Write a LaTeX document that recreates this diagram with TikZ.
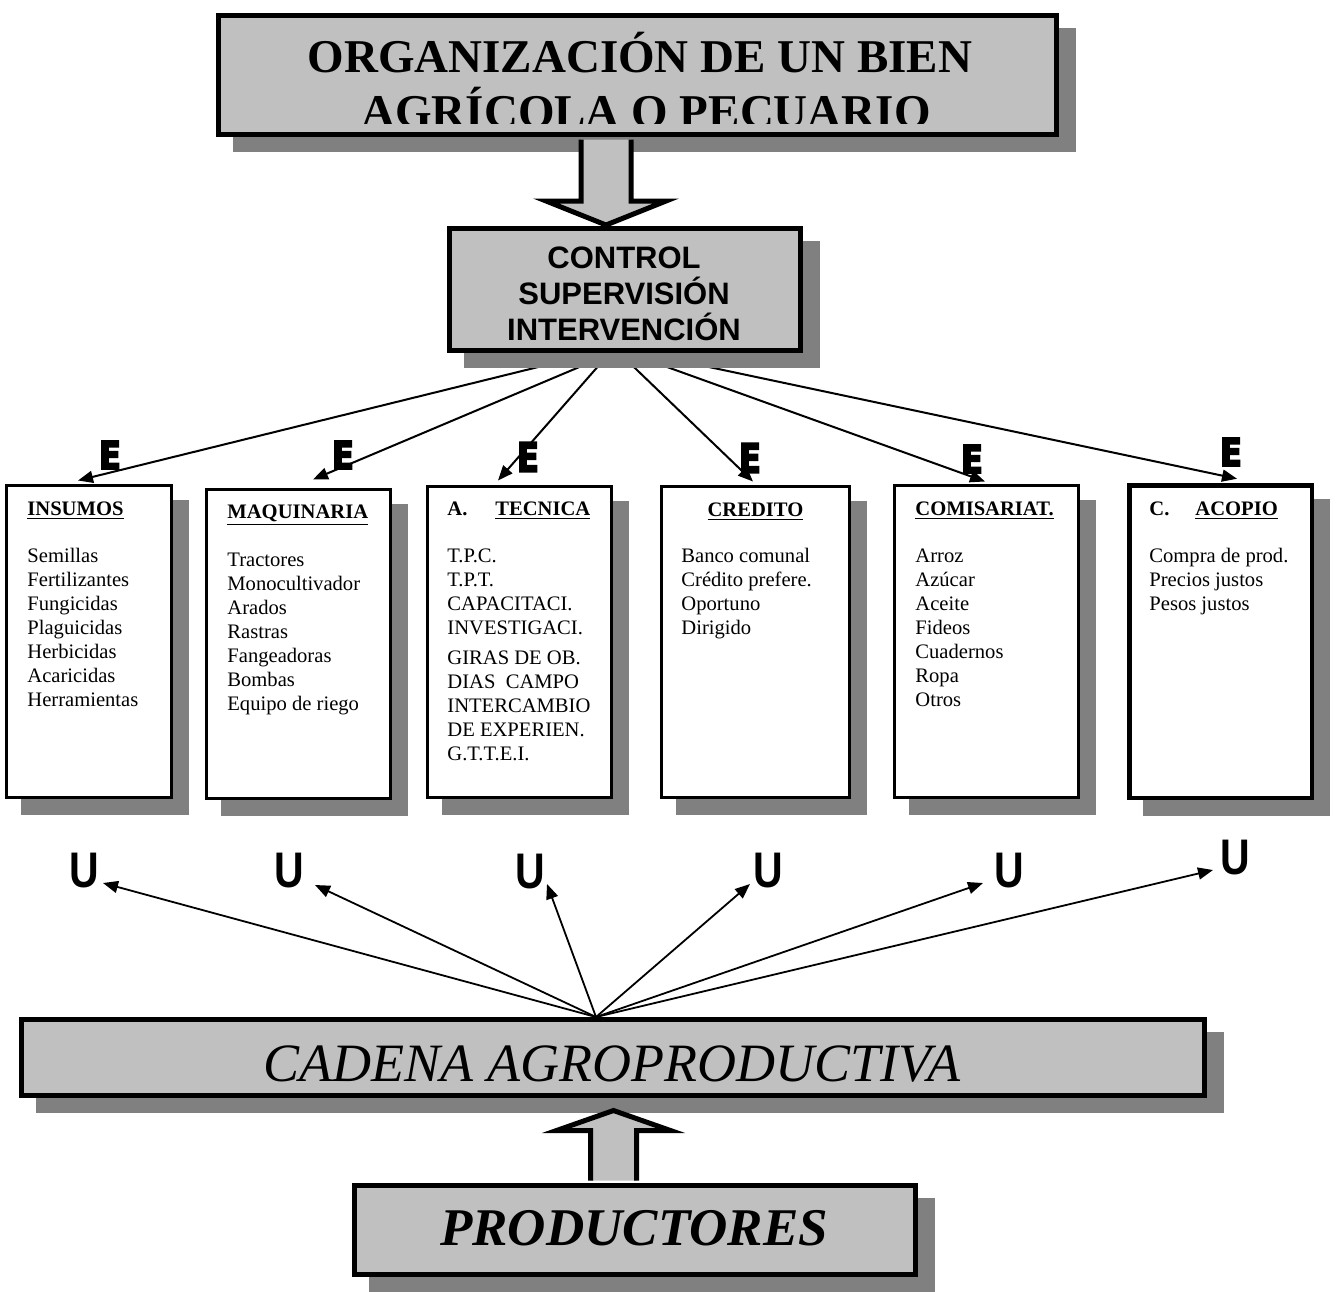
\documentclass[tikz,border=0pt]{standalone}
\usepackage{fontspec}
\setmainfont{Liberation Serif}
\newfontfamily\arialf{Liberation Sans}
\newfontfamily\heavyE[FakeBold=5]{DejaVu Sans Bold}
\usetikzlibrary{arrows.meta,calc,fit}
\pgfdeclarelayer{bg}
\pgfsetlayers{bg,main}
\definecolor{boxgray}{HTML}{C0C0C0}
\definecolor{shadowgray}{HTML}{808080}
\tikzset{
  bigbox/.style={draw=black, line width=2.5pt, fill=boxgray, inner sep=0pt,
    preaction={draw=shadowgray, fill=shadowgray, transform canvas={shift={(8.4pt,-7.6pt)}}}},
  panel/.style={draw=black, line width=1.5pt, fill=white, inner sep=0pt,
    preaction={draw=shadowgray, fill=shadowgray, transform canvas={shift={(8pt,-8pt)}}}},
  conn/.style={line width=1pt, -{Triangle[length=7.5pt,width=6pt]}},
  uconn/.style={line width=0.9pt, -{Triangle[length=7.5pt,width=6pt]}},
  blockarrow/.style={draw=black, line width=2.5pt, fill=boxgray, line join=miter},
  lettE/.style={font=\heavyE\fontsize{20}{20}\selectfont, inner sep=0pt},
  lettU/.style={font=\arialf\bfseries\fontsize{25}{25}\selectfont, inner sep=0pt, anchor=base},
  itemtxt/.style={anchor=base west, inner sep=0pt, font=\fontsize{10.3}{12}\selectfont},
  ctrltxt/.style={anchor=base, inner sep=0pt, font=\arialf\bfseries\fontsize{15.5}{18}\selectfont},
}
\newcommand{\itemlist}[1]{\parbox[t]{200pt}{\raggedright #1}}
\begin{document}
\begin{tikzpicture}[x=0.5pt,y=-0.5pt]
\useasboundingbox (0,0) rectangle (1337,1291);

% ---------- top box ----------
\node[bigbox, fit={(218.5,15.5) (1056.5,134.5)}] (top) {};
\node[anchor=base, inner sep=0pt, font=\bfseries\fontsize{23.5}{24}\selectfont] (tl1) at (640,72) {ORGANIZACIÓN DE UN BIEN};
\begin{scope}
  \clip (216,13) rectangle (1059,123);
  \node[anchor=base, inner sep=0pt, font=\bfseries\fontsize{23.5}{24}\selectfont] (tl2) at (646,127) {AGRÍCOLA O PECUARIO};
\end{scope}

% ---------- control box ----------
\node[bigbox, fit={(449.5,228.5) (800.5,350.5)}] (ctrl) {};
\node[ctrltxt] (c1) at (624,268) {CONTROL};
\node[ctrltxt] (c2) at (624,304) {SUPERVISIÓN};
\node[ctrltxt] (c3) at (624,340) {INTERVENCIÓN};

% block arrow down
\coordinate (ds) at ($(top.south)+(-31.5,2.5)$);
\coordinate (dt) at ($(ctrl.north)+(-19,-1)$);
\draw[blockarrow] ($(ds)+(-25,0)$) -- ($(dt)+(-25,-24)$) -- ($(dt)+(-60,-24)$) -- (dt)
   -- ($(dt)+(60,-24)$) -- ($(dt)+(25,-24)$) -- ($(ds)+(25,0)$);

% ---------- six panels ----------
\node[panel, fit={(6.5,485.5) (171.5,797.5)}] (b1) {};
\node[panel, fit={(206.5,489.5) (390.5,798.5)}] (b2) {};
\node[panel, fit={(427.5,486.5) (611.5,797.5)}] (b3) {};
\node[panel, fit={(661.5,486.5) (849.5,797.5)}] (b4) {};
\node[panel, fit={(894.5,485.5) (1078.5,797.5)}] (b5) {};
\node[panel, line width=2.25pt, fit={(1129.25,485.25) (1311.75,797.75)}] (b6) {};

\node[itemtxt] (i1) at (27,515) {\itemlist{\underline{\textbf{INSUMOS}}\\[11.5pt]
  Semillas\\Fertilizantes\\Fungicidas\\Plaguicidas\\Herbicidas\\Acaricidas\\Herramientas}};
\node[itemtxt] (i2) at (227,518) {\itemlist{\underline{\textbf{MAQUINARIA}}\\[12pt]
  Tractores\\Monocultivador\\Arados\\Rastras\\Fangeadoras\\Bombas\\Equipo de riego}};
\node[itemtxt] (i3) at (447,515) {\itemlist{\textbf{\makebox[24pt][l]{A.}\underline{TECNICA}}\\[11.5pt]
  T.P.C.\\T.P.T.\\CAPACITACI.\\INVESTIGACI.\\[3pt]GIRAS DE OB.\\DIAS\ \ CAMPO\\INTERCAMBIO\\DE EXPERIEN.\\G.T.T.E.I.}};
\node[anchor=base, inner sep=0pt, font=\fontsize{10.3}{12}\selectfont] (h4) at (755.5,516) {\underline{\textbf{CREDITO}}};
\node[itemtxt] (i4) at (681,562) {\itemlist{Banco comunal\\Crédito prefere.\\Oportuno\\Dirigido}};
\node[itemtxt] (i5) at (915,515) {\itemlist{\underline{\textbf{COMISARIAT.}}\\[11.5pt]
  Arroz\\Azúcar\\Aceite\\Fideos\\Cuadernos\\Ropa\\Otros}};
\node[itemtxt] (i6) at (1149,515) {\itemlist{\textbf{\makebox[23pt][l]{C.}\underline{ACOPIO}}\\[11.5pt]
  Compra de prod.\\Precios justos\\Pesos justos}};

% E letters
\node[lettE] (e1) at (110,455) {\scalebox{0.8}[0.95]{E}};
\node[lettE] (e2) at (343,455) {\scalebox{0.8}[0.95]{E}};
\node[lettE] (e3) at (528,457) {\scalebox{0.8}[1]{E}};
\node[lettE] (e4) at (750,458) {\scalebox{0.8}[1]{E}};
\node[lettE] (e5) at (972,459) {\scalebox{0.8}[0.95]{E}};
\node[lettE] (e6) at (1231,452) {\scalebox{0.8}[0.95]{E}};

% connectors control -> panels (behind the control box shadow)
\begin{pgfonlayer}{bg}
\draw[conn] ($(ctrl.south)+(-30,0)$) -- ($(b1.north)+(-11,-3.5)$);
\draw[conn] ($(ctrl.south)+(-12.5,0)$) -- ($(b2.north)+(14.5,-8.5)$);
\draw[conn] ($(ctrl.south)+(-15.3,0)$) -- ($(b3.north)+(-21.5,-4.5)$);
\draw[conn] ($(ctrl.south)+(-5.7,0)$) -- ($(b4.north)+(-2.5,-3.5)$);
\draw[conn] ($(ctrl.south)+(3.2,0)$) -- ($(b5.north)+(-1.5,-2.5)$);
\draw[conn] ($(ctrl.south)+(17.8,0)$) -- ($(b6.north)+(16.5,-4.25)$);
\end{pgfonlayer}

% ---------- U letters ----------
\node[lettU] (u1) at (84,887) {\scalebox{0.82}[1]{U}};
\node[lettU] (u2) at (289,887) {\scalebox{0.82}[1]{U}};
\node[lettU] (u3) at (530,888) {\scalebox{0.82}[1]{U}};
\node[lettU] (u4) at (768,887) {\scalebox{0.82}[1]{U}};
\node[lettU] (u5) at (1009,887) {\scalebox{0.82}[1]{U}};
\node[lettU] (u6) at (1235,874) {\scalebox{0.82}[1]{U}};
\coordinate (ut1) at (103,883);
\coordinate (ut2) at (315,885);
\coordinate (ut3) at (547,884);
\coordinate (ut4) at (750,884);
\coordinate (ut5) at (983,883);
\coordinate (ut6) at (1213,870);

% ---------- cadena ----------
\node[bigbox, fit={(21.5,1019.5) (1204.5,1095.5)}] (cad) {};
\node[anchor=base, inner sep=0pt, font=\itshape\fontsize{27}{27}\selectfont] (cadt) at (612,1081) {CADENA AGROPRODUCTIVA};
\coordinate (uo) at ($(cad.north)+(-17,0)$);
\foreach \k in {1,...,6} { \draw[uconn] (uo) -- (ut\k); }

% ---------- productores ----------
\node[bigbox, fit={(354.5,1185.5) (915.5,1274.5)}] (prod) {};
\node[anchor=base, inner sep=0pt, font=\bfseries\itshape\fontsize{26.5}{26.5}\selectfont] (prodt) at (634,1245) {PRODUCTORES};

% block arrow up
\coordinate (us) at ($(prod.north)+(-21.5,-2.5)$);
\coordinate (ut) at ($(cad.south)+(0.5,12.5)$);
\draw[blockarrow] ($(us)+(-23,0)$) -- ($(ut)+(-23,20)$) -- ($(ut)+(-57,20)$) -- (ut)
   -- ($(ut)+(57,20)$) -- ($(ut)+(23,20)$) -- ($(us)+(23,0)$);
\end{tikzpicture}
\end{document}
